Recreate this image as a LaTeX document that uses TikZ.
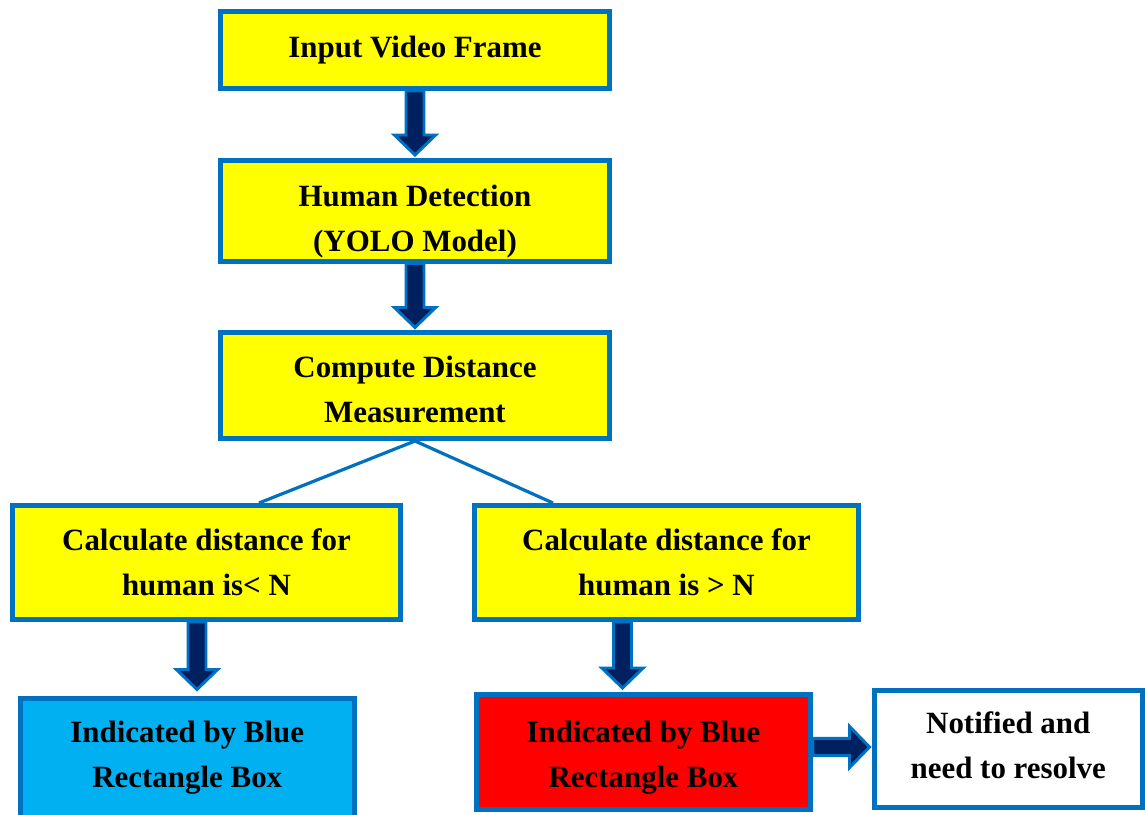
\documentclass[tikz,border=0pt]{standalone}
\usepackage{fontspec}
\setmainfont{Liberation Serif}
\usetikzlibrary{calc}
\definecolor{bord}{HTML}{0070C0}
\definecolor{ylw}{HTML}{FFFF00}
\definecolor{cyanfill}{HTML}{00B0F0}
\definecolor{redfill}{HTML}{FF0000}
\definecolor{navy}{HTML}{002060}
\tikzset{
  box/.style={draw=bord, line width=3.75pt, fill=ylw, inner sep=0pt, align=center,
    font={\fontsize{23.2pt}{33.75pt}\selectfont\bfseries}, text=black},
  blkarrow/.style={draw=bord, fill=navy, line width=2.2pt, line join=miter},
  link/.style={draw=bord, line width=2.4pt}
}
% text block shifted vertically by #1 without changing its reported size
\newcommand{\shiftedtext}[2]{\raisebox{#1}[\height][\depth]{\begin{tabular}{@{}c@{}}#2\end{tabular}}}
% vertical block arrow: #1 start (top), #2 tip (bottom); x taken from #1
\newcommand{\vblock}[2]{%
  \path[blkarrow] let \p1=(#1), \p2=(#2) in
    (\x1-6.75pt,\y1) -- (\x1-6.75pt,\y2+15pt) -- (\x1-15.5pt,\y2+15pt) -- (\x1,\y2)
    -- (\x1+15.5pt,\y2+15pt) -- (\x1+6.75pt,\y2+15pt) -- (\x1+6.75pt,\y1) -- cycle;}
% horizontal block arrow: #1 start (left), #2 tip (right); y taken from #1
\newcommand{\hblock}[2]{%
  \path[blkarrow] let \p1=(#1), \p2=(#2) in
    (\x1,\y1+6.5pt) -- (\x2-15pt,\y1+6.5pt) -- (\x2-15pt,\y1+15.5pt) -- (\x2,\y1)
    -- (\x2-15pt,\y1-15.5pt) -- (\x2-15pt,\y1-6.5pt) -- (\x1,\y1-6.5pt) -- cycle;}
\begin{document}
\begin{tikzpicture}[x=0.75pt,y=-0.75pt]
\useasboundingbox (0,0) rectangle (1145,814);
\clip (0,0) rectangle (1145,814);

\node[box, minimum width=389*0.75pt, minimum height=77*0.75pt] (in) at (415,50) {\shiftedtext{1.5pt}{Input Video Frame}};
\node[box, minimum width=389*0.75pt, minimum height=101*0.75pt] (hd) at (415,210.5) {\shiftedtext{-6.75pt}{Human Detection\\(YOLO Model)}};
\node[box, minimum width=389*0.75pt, minimum height=106*0.75pt] (cd) at (415,385.5) {\shiftedtext{-3.75pt}{Compute Distance\\Measurement}};
\node[box, minimum width=388*0.75pt, minimum height=114*0.75pt] (cl) at (206.5,562.5) {Calculate distance for\\human is< N};
\node[box, minimum width=384*0.75pt, minimum height=114*0.75pt] (cr) at (666.5,562.5) {Calculate distance for\\human is > N};
\node[box, fill=cyanfill, minimum width=334.5*0.75pt, minimum height=120*0.75pt] (bb) at (187.25,758) {Indicated by Blue\\Rectangle Box};
\node[box, fill=redfill, minimum width=334*0.75pt, minimum height=115*0.75pt] (rb) at (643.5,752) {\shiftedtext{-3pt}{Indicated by Blue\\Rectangle Box}};
\node[box, fill=white, minimum width=267.5*0.75pt, minimum height=117*0.75pt] (wb) at (1008.25,749) {\shiftedtext{1.5pt}{Notified and\\need to resolve}};

\coordinate (clend) at ($(cl.north)+(52.5,0)$);
\coordinate (crend) at ($(cr.north)+(-113.5,0)$);
\draw[link] (cd.south) -- (clend);
\draw[link] (cd.south) -- (crend);

\vblock{in.south}{$(hd.north)+(0,-2.5)$}
\vblock{hd.south}{$(cd.north)+(0,-2.5)$}
\vblock{$(cl.south)+(-9.5,0)$}{$(bb.north)+(0,-6)$}
\vblock{$(cr.south)+(-44,0)$}{$(rb.north)+(0,-4)$}
\hblock{$(rb.east)+(0,-5)$}{$(wb.west)+(-2.5,0)$}
\end{tikzpicture}
\end{document}
